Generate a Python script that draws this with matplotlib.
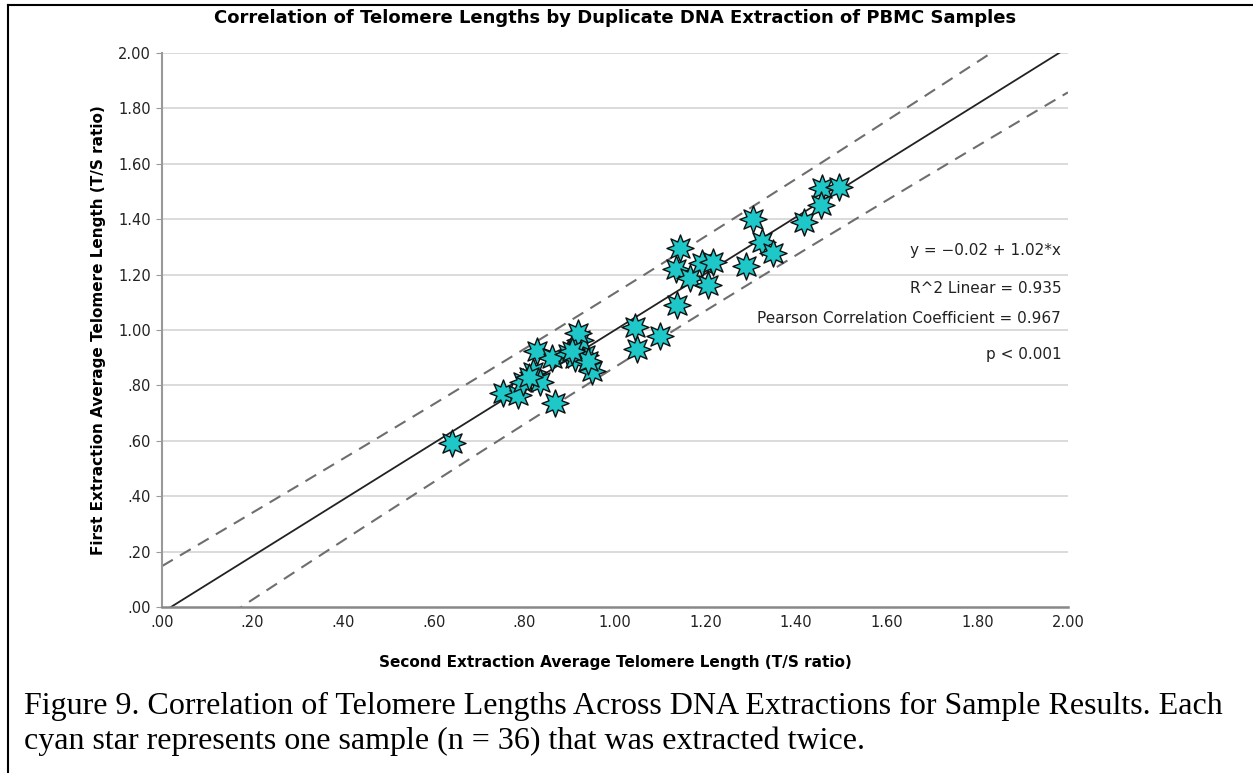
import numpy as np
import matplotlib.pyplot as plt
from matplotlib.path import Path
from matplotlib.lines import Line2D

# second extraction (x) vs first extraction (y), T/S ratio
second_ext = [0.640, 0.753, 0.786, 0.797, 0.819, 0.834, 0.868, 0.949, 0.828, 0.860,
              0.896, 0.934, 0.923, 0.918, 0.912, 0.940, 0.905, 0.810,
              1.049, 1.044, 1.099, 1.137, 1.135, 1.143, 1.166, 1.192, 1.216, 1.205,
              1.289, 1.305, 1.325, 1.349, 1.417, 1.457, 1.495, 1.455]
first_ext = [0.592, 0.773, 0.765, 0.812, 0.848, 0.812, 0.736, 0.852, 0.925, 0.900,
             0.913, 0.910, 0.964, 0.990, 0.900, 0.890, 0.925, 0.830,
             0.930, 1.010, 0.980, 1.090, 1.220, 1.296, 1.188, 1.242, 1.245, 1.162,
             1.231, 1.400, 1.318, 1.278, 1.390, 1.513, 1.516, 1.451]

intercept, slope = -0.02, 1.02
stats_lines = ["y = \u22120.02 + 1.02*x", "R^2 Linear = 0.935",
               "Pearson Correlation Coefficient = 0.967", "p < 0.001"]
ticks = [0.0, 0.2, 0.4, 0.6, 0.8, 1.0, 1.2, 1.4, 1.6, 1.8, 2.0]
tick_labels = [".00", ".20", ".40", ".60", ".80", "1.00", "1.20", "1.40", "1.60", "1.80", "2.00"]

x = np.array(second_ext)
y = np.array(first_ext)
n = len(x)

# 95% prediction interval around the fitted line
resid = y - (intercept + slope * x)
s = np.sqrt(np.sum(resid ** 2) / (n - 2))
sxx = np.sum((x - x.mean()) ** 2)
xs = np.linspace(0, 2, 200)
fit = intercept + slope * xs
half = 2.03 * s * np.sqrt(1 + 1 / n + (xs - x.mean()) ** 2 / sxx)

# 8 point star marker
ang = np.linspace(0, 2 * np.pi, 17)[:-1] + np.pi / 2
rad = np.where(np.arange(16) % 2 == 0, 1.0, 0.52)
verts = np.column_stack([rad * np.cos(ang), rad * np.sin(ang)])
verts = np.vstack([verts, verts[0]])
star = Path(verts, [Path.MOVETO] + [Path.LINETO] * 15 + [Path.CLOSEPOLY])

fig = plt.figure(figsize=(12.53, 7.73), dpi=100)
ax = fig.add_axes([0.1293, 0.2147, 0.7230, 0.7167])

for t in ticks[1:]:
    ax.axhline(t, color="#d4d4d4", lw=1.2, zorder=0)

ax.plot(xs, fit, color="#222222", lw=1.3, zorder=2)
ax.plot(xs, fit + half, color="#6e6e6e", lw=1.5, ls=(0, (6, 4)), zorder=2)
ax.plot(xs, fit - half, color="#6e6e6e", lw=1.5, ls=(0, (6, 4)), zorder=2)

ax.scatter(x, y, marker=star, s=380, facecolor="#1ec8c8", edgecolor="#111111",
           linewidth=1.0, zorder=3)

ax.set_xlim(0, 2)
ax.set_ylim(0, 2)
ax.set_xticks(ticks)
ax.set_xticklabels(tick_labels)
ax.set_yticks(ticks)
ax.set_yticklabels(tick_labels)
ax.tick_params(axis="x", length=0, pad=6, labelsize=10.5, labelcolor="#222222")
ax.tick_params(axis="y", length=4, color="#999999", pad=4, labelsize=10.5,
               labelcolor="#222222")
for sp in ["top", "right"]:
    ax.spines[sp].set_visible(False)
ax.spines["left"].set_color("#999999")
ax.spines["left"].set_linewidth(1.5)
ax.spines["bottom"].set_color("#888888")
ax.spines["bottom"].set_linewidth(1.8)

ax.set_title("Correlation of Telomere Lengths by Duplicate DNA Extraction of PBMC Samples",
             fontsize=13, fontweight="bold", pad=21.5)
ax.set_xlabel("Second Extraction Average Telomere Length (T/S ratio)",
              fontsize=11, fontweight="bold", labelpad=18)
ax.set_ylabel("First Extraction Average Telomere Length (T/S ratio)",
              fontsize=11, fontweight="bold", labelpad=9)

ypos = [1.288, 1.15, 1.04, 0.913]
for txt, yy in zip(stats_lines, ypos):
    ax.text(1.985, yy, txt, ha="right", va="center", fontsize=11, color="#222222")

fig.text(0.019, 0.086, "Figure 9. Correlation of Telomere Lengths Across DNA Extractions "
         "for Sample Results. Each", family="Liberation Serif", fontsize=23,
         va="center")
fig.text(0.019, 0.041, "cyan star represents one sample (n = 36) that was extracted twice.",
         family="Liberation Serif", fontsize=23, va="center")

# border of the figure cell
fig.add_artist(Line2D([0.006, 0.006], [0, 0.994], color="black", lw=1.5))
fig.add_artist(Line2D([0.006, 1.0], [0.994, 0.994], color="black", lw=1.5))

fig.savefig("out.png", dpi=100)
